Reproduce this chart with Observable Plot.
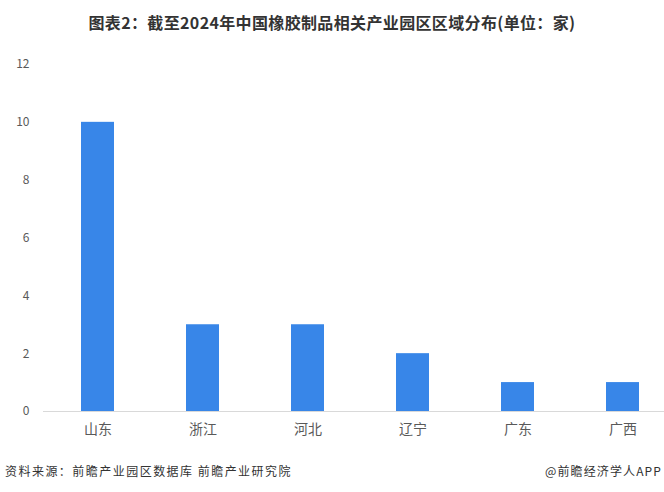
<!DOCTYPE html>
<html>
<head>
<meta charset="utf-8">
<script src="https://cdn.jsdelivr.net/npm/d3@7"></script>
<script src="https://cdn.jsdelivr.net/npm/@observablehq/plot@0.6"></script>
<style>
  html, body { margin: 0; padding: 0; background: #fff; }
  body { width: 664px; height: 492px; position: relative; overflow: hidden;
         font-family: "Noto Sans CJK SC", "Noto Sans", sans-serif; }
  #title { position: absolute; top: 0; left: 0; width: 664px; height: 44px; line-height: 44px;
           text-align: center; color: #333; }
  #title span { font-size: 16px; font-weight: bold; display: inline-block; white-space: nowrap; }
  #chart { position: absolute; top: 44px; left: 0; }
  .foot { position: absolute; top: 462px; font-size: 12px; color: #333; line-height: 18px; white-space: nowrap; }
  #src { left: 5px; }
  #brand { right: 2px; }
</style>
</head>
<body>
<div id="title"><span id="tt">图表2：截至2024年中国橡胶制品相关产业园区区域分布(单位：家)</span></div>
<div id="chart"></div>
<div class="foot" id="src">资料来源：前瞻产业园区数据库 前瞻产业研究院</div>
<div class="foot" id="brand">@前瞻经济学人APP</div>
<script>
const regions = ["山东", "浙江", "河北", "辽宁", "广东", "广西"];
const counts = [10, 3, 3, 2, 1, 1];
const yTicks = [0, 2, 4, 6, 8, 10, 12];

const data = regions.map((r, i) => ({region: r, count: counts[i]}));

const chart = Plot.plot({
  width: 664,
  height: 406,
  marginTop: 20,
  marginBottom: 39,
  marginLeft: 43,
  marginRight: 0,
  style: {fontFamily: "'Noto Sans CJK SC', 'Noto Sans', sans-serif", background: "#fff"},
  x: {domain: regions, range: [43, 677], paddingInner: 0.69, paddingOuter: 0.35, label: null},
  y: {domain: [0, 12], label: null},
  marks: [
    Plot.barY(data, {x: "region", y: "count", fill: "#3886e8"}),
    Plot.ruleY([0], {stroke: "#d9d9d9", strokeWidth: 1}),
    Plot.axisY({ticks: yTicks, tickSize: 0, tickPadding: 14, fontSize: 12, fill: "#595959", label: null}),
    Plot.axisX({tickSize: 0, tickPadding: 13, fontSize: 14, fill: "#595959", label: null})
  ]
});
document.getElementById("chart").appendChild(chart);

// fit text widths to the reference by adjusting letter spacing
function fit(el, target) {
  const n = el.textContent.length;
  const w = el.getBoundingClientRect().width;
  el.style.letterSpacing = ((target - w) / n) + "px";
}
fit(document.getElementById("tt"), 487);
fit(document.getElementById("src"), 287);
fit(document.getElementById("brand"), 117);
</script>
</body>
</html>
